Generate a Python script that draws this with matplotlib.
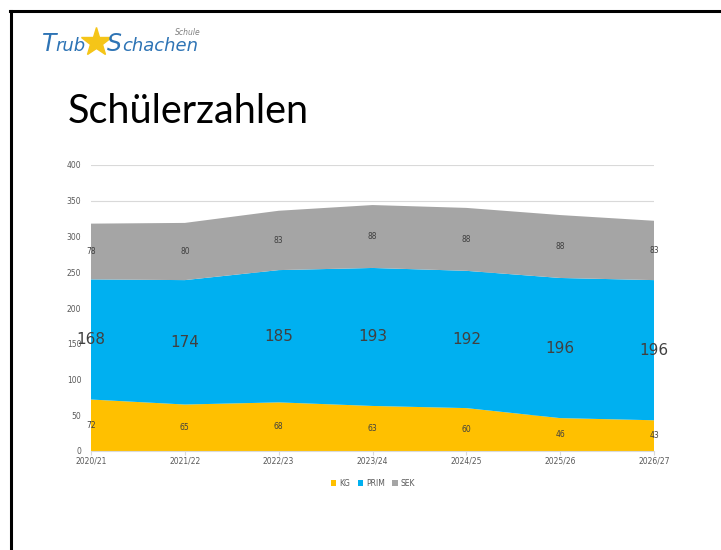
import matplotlib
matplotlib.use("Agg")
import matplotlib.pyplot as plt
import numpy as np
from matplotlib.lines import Line2D

categories = ["2020/21", "2021/22", "2022/23", "2023/24", "2024/25", "2025/26", "2026/27"]
kg = [72, 65, 68, 63, 60, 46, 43]
prim = [168, 174, 185, 193, 192, 196, 196]
sek = [78, 80, 83, 88, 88, 88, 83]
yticks = [0, 50, 100, 150, 200, 250, 300, 350, 400]

c_kg, c_prim, c_sek = "#FFC000", "#00B0F0", "#A5A5A5"
W, H = 721, 550
fig = plt.figure(figsize=(W / 100, H / 100), dpi=100)
fig.patch.set_facecolor("white")

# slide frame
fig.add_artist(Line2D([10 / W, 1.0], [1 - 10.5 / H, 1 - 10.5 / H], color="black", lw=2.2, transform=fig.transFigure))
fig.add_artist(Line2D([10.5 / W, 10.5 / W], [0, 1 - 10.5 / H], color="black", lw=2.2, transform=fig.transFigure))

# logo
fig.text(42 / W, 1 - 51 / H, "T", color="#2E74B5", fontsize=17, style="italic", family="DejaVu Sans", va="baseline")
fig.text(55 / W, 1 - 51 / H, "rub", color="#2E74B5", fontsize=13, style="italic", family="DejaVu Sans", va="baseline")
fig.add_artist(Line2D([96 / W], [1 - 42 / H], marker="*", markersize=22, color="#F5C518", markeredgecolor="#F5C518", transform=fig.transFigure))
fig.text(107 / W, 1 - 51 / H, "S", color="#2E74B5", fontsize=17, style="italic", family="DejaVu Sans", va="baseline")
fig.text(122 / W, 1 - 51 / H, "chachen", color="#2E74B5", fontsize=13, style="italic", family="DejaVu Sans", va="baseline")
fig.text(175 / W, 1 - 35 / H, "Schule", color="#7F7F7F", fontsize=5.5, style="italic", family="DejaVu Sans", va="baseline")

# title
fig.text(68 / W, 1 - 123 / H, "Schülerzahlen", fontsize=28.5, family="Lato", fontweight="normal", color="black", va="baseline")

ax = fig.add_axes([91 / W, 1 - 451 / H, (654 - 91) / W, (451 - 165) / H])
x = np.arange(len(categories))
kg_a = np.array(kg); prim_a = np.array(prim); sek_a = np.array(sek)
ax.stackplot(x, kg_a, prim_a, sek_a, colors=[c_kg, c_prim, c_sek], labels=["KG", "PRIM", "SEK"], lw=0, zorder=2)
ax.set_xlim(0, len(categories) - 1)
ax.set_ylim(0, 400)
ax.set_yticks(yticks)
ax.yaxis.grid(True, color="#D9D9D9", lw=0.8, zorder=0)
ax.set_axisbelow(True)
for s in ["top", "right", "left"]:
    ax.spines[s].set_visible(False)
ax.spines["bottom"].set_color("#D9D9D9")
ax.set_xticks(x)
ax.set_xticklabels(categories)
ax.tick_params(axis="y", length=0, labelsize=5.5, labelcolor="#595959", pad=7)
ax.tick_params(axis="x", length=3, color="#D9D9D9", labelsize=5.5, labelcolor="#595959", pad=1)

# data labels
for i in x:
    ax.text(i, kg_a[i] / 2, str(kg[i]), ha="center", va="center", fontsize=5.5, color="#404040", zorder=5)
    ax.text(i, kg_a[i] + prim_a[i] / 2, str(prim[i]), ha="center", va="center", fontsize=11, color="#404040", zorder=5)
    ax.text(i, kg_a[i] + prim_a[i] + sek_a[i] / 2, str(sek[i]), ha="center", va="center", fontsize=5.5, color="#404040", zorder=5)

leg = fig.legend(loc="center", bbox_to_anchor=(373 / W, 1 - 483 / H), ncol=3, frameon=False,
                 fontsize=5.5, handlelength=0.7, handleheight=0.7, columnspacing=1.0, handletextpad=0.4)
for t in leg.get_texts():
    t.set_color("#595959")

fig.savefig("out.png", dpi=100, facecolor="white")
